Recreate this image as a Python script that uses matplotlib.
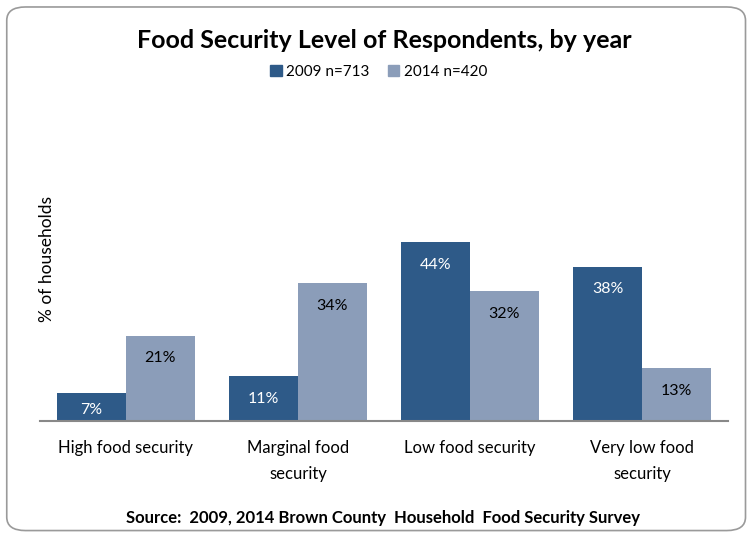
import matplotlib
matplotlib.use('Agg')
from matplotlib import pyplot as plt
from matplotlib.patches import FancyBboxPatch, Patch
import numpy as np

# data
categories = ['High food security', 'Marginal food\nsecurity',
              'Low food security', 'Very low food\nsecurity']
series_names = ['2009 n=713', '2014 n=420']
values_2009 = [7, 11, 44, 38]
values_2014 = [21, 34, 32, 13]

dark = '#2E5A88'
light = '#8B9DB9'
font = ['Lato', 'DejaVu Sans']
plt.rcParams['font.family'] = font

fig = plt.figure(figsize=(7.5, 5.37), dpi=100)

# rounded chart frame, behind everything
frame = FancyBboxPatch((0.009, 0.012), 0.985, 0.975,
                       boxstyle='round,pad=0,rounding_size=0.025',
                       transform=fig.transFigure, facecolor='white',
                       edgecolor='#9A9A9A', linewidth=1.2, zorder=-5)
fig.patches.append(frame)

ax = fig.add_axes([0.0533, 0.216, 0.9173, 0.605])
ax.set_facecolor('none')

x = np.arange(len(categories))
w = 0.4
bars1 = ax.bar(x - w / 2, values_2009, w, color=dark, label=series_names[0])
bars2 = ax.bar(x + w / 2, values_2014, w, color=light, label=series_names[1])

ax.set_xlim(-0.5, len(categories) - 0.5)
ax.set_ylim(0, 80)

# value labels just inside the bar top
for bars, vals, tc in ((bars1, values_2009, 'white'), (bars2, values_2014, 'black')):
    for b, v in zip(bars, vals):
        y = max(v - 5.6, 2.8)
        ax.text(b.get_x() + b.get_width() / 2, y, f'{v}%', ha='center',
                va='center', color=tc, fontsize=11.5)

for side in ('top', 'right', 'left'):
    ax.spines[side].set_visible(False)
ax.spines['bottom'].set_color('#888888')
ax.spines['bottom'].set_linewidth(1.5)
ax.set_yticks([])
ax.set_xticks(x)
ax.set_xticklabels(categories, fontsize=12, linespacing=1.75)
ax.tick_params(axis='x', length=0, pad=14)

# axis title sits just inside the plot area
ax.text(0.01, 0.5, '% of households', transform=ax.transAxes, rotation=90,
        ha='center', va='center', fontsize=12.5)

fig.text(0.513, 0.925, 'Food Security Level of Respondents, by year',
         ha='center', va='center', fontsize=18, fontweight='bold')

handles = [Patch(color=dark), Patch(color=light)]
fig.legend(handles, series_names, loc='center', bbox_to_anchor=(0.505, 0.866),
           ncol=2, frameon=False, fontsize=11, handlelength=0.75,
           handleheight=0.75, handletextpad=0.3, columnspacing=1.2)

fig.text(0.51, 0.035, 'Source:  2009, 2014 Brown County  Household  Food Security Survey',
         ha='center', va='center', fontsize=12, fontweight='bold')

fig.savefig('out.png', dpi=100)
